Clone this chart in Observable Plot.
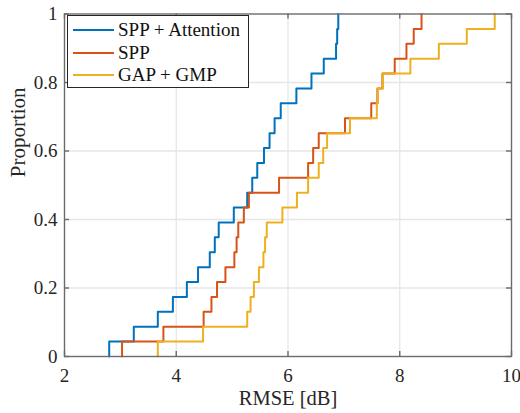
<!DOCTYPE html>
<html>
<head>
<meta charset="utf-8">
<script src="https://cdn.jsdelivr.net/npm/d3@7"></script>
<script src="https://cdn.jsdelivr.net/npm/@observablehq/plot@0.6"></script>
<style>
  html, body { margin: 0; padding: 0; background: #fff; }
  #wrap { position: relative; width: 520px; height: 413px; font-family: "Liberation Serif", "Times New Roman", serif; }
  #legend { position: absolute; left: 67px; top: 15px; width: 182px; height: 73px; border: 1px solid #262626; background: #fff; box-sizing: border-box; }
  .entry { position: absolute; left: 0; height: 22px; display: flex; align-items: center; font-family: "Liberation Serif", "Times New Roman", serif; font-size: 19px; color: #111; white-space: nowrap; }
  .swatch { width: 41px; height: 0; border-top: 2px solid; margin-left: 5px; margin-right: 4px; }
</style>
</head>
<body>
<div id="wrap"></div>
<script>
// ---- data ----
const seriesNames = ["SPP + Attention", "SPP", "GAP + GMP"];
const seriesColors = ["#0072BD", "#D95319", "#EDB120"];
const sppAttention = [2.80, 3.24, 3.67, 3.94, 4.19, 4.39, 4.60, 4.69, 4.76, 5.03, 5.27, 5.36, 5.45, 5.57, 5.67, 5.76, 5.87, 6.15, 6.42, 6.64, 6.86, 6.88, 6.90];
const spp = [3.03, 3.77, 4.49, 4.63, 4.73, 4.88, 5.04, 5.08, 5.11, 5.21, 5.30, 5.84, 6.36, 6.45, 6.55, 7.02, 7.49, 7.60, 7.69, 7.91, 8.12, 8.25, 8.39];
const gapGmp = [3.67, 4.48, 5.27, 5.33, 5.39, 5.48, 5.56, 5.59, 5.62, 5.90, 6.16, 6.36, 6.55, 6.63, 6.70, 7.11, 7.59, 7.61, 7.70, 8.19, 8.70, 9.20, 9.70];
const xTicks = [2, 4, 6, 8, 10];
const yTicks = [0, 0.2, 0.4, 0.6, 0.8, 1];
const yTickLabels = ["0", "0.2", "0.4", "0.6", "0.8", "1"];
const xLabel = "RMSE [dB]";
const yLabel = "Proportion";

// ---- ECDF points ----
function ecdf(values, name) {
  const s = values.slice().sort((a, b) => a - b);
  const n = s.length;
  const pts = [{x: s[0], y: 0, series: name}];
  s.forEach((v, i) => pts.push({x: v, y: (i + 1) / n, series: name}));
  return pts;
}
const allSeries = [sppAttention, spp, gapGmp];
const curves = allSeries.map((v, i) => ecdf(v, seriesNames[i]));

const W = 520, H = 413;
const mL = 64, mR = 9, mT = 13.5, mB = 57;
const tickPx = 5;
const xPerPx = (10 - 2) / (W - mL - mR);
const yPerPx = 1 / (H - mT - mB);
const axisColor = "#262626";
const serif = "Liberation Serif, Times New Roman, serif";

const chart = Plot.plot({
  width: W, height: H,
  marginLeft: mL, marginRight: mR, marginTop: mT, marginBottom: mB,
  style: {fontFamily: serif, fontSize: "19px", background: "#fff", color: axisColor},
  x: {domain: [2, 10], ticks: xTicks},
  y: {domain: [0, 1], ticks: yTicks},
  marks: [
    Plot.gridX(xTicks.slice(1, -1), {stroke: "#e6e6e6", strokeOpacity: 1, strokeWidth: 1.3}),
    Plot.gridY(yTicks.slice(1, -1), {stroke: "#e6e6e6", strokeOpacity: 1, strokeWidth: 1.3}),
    ...curves.map((c, i) => Plot.line(c, {x: "x", y: "y", curve: "step-after", stroke: seriesColors[i], strokeWidth: 2})),
    Plot.frame({stroke: "#6b6b6b", strokeWidth: 1.4}),
    // inward ticks
    Plot.ruleX(xTicks, {x: d => d, y1: 0, y2: tickPx * yPerPx, stroke: "#6b6b6b", strokeWidth: 1.4}),
    Plot.ruleX(xTicks, {x: d => d, y1: 1 - tickPx * yPerPx, y2: 1, stroke: "#6b6b6b", strokeWidth: 1.4}),
    Plot.ruleY(yTicks, {y: d => d, x1: 2, x2: 2 + tickPx * xPerPx, stroke: "#6b6b6b", strokeWidth: 1.4}),
    Plot.ruleY(yTicks, {y: d => d, x1: 10 - tickPx * xPerPx, x2: 10, stroke: "#6b6b6b", strokeWidth: 1.4}),
    Plot.axisX(xTicks, {tickSize: 0, tickPadding: 11.5, fontSize: 19, fontFamily: serif, fill: axisColor, label: null}),
    Plot.axisY(yTicks, {tickSize: 0, tickPadding: 7, fontSize: 19, fontFamily: serif, fill: axisColor, label: null, tickFormat: d => yTickLabels[yTicks.indexOf(d)]}),
    Plot.text([xLabel], {frameAnchor: "bottom", dy: 48, fontSize: 20.5, fontFamily: serif, fill: axisColor, text: d => d}),
    Plot.text([yLabel], {frameAnchor: "left", dx: -46, dy: -8, rotate: -90, fontSize: 21, fontFamily: serif, fill: axisColor, text: d => d})
  ]
});

const wrap = document.getElementById("wrap");
wrap.appendChild(chart);

const legend = document.createElement("div");
legend.id = "legend";
seriesNames.forEach((name, i) => {
  const e = document.createElement("div");
  e.className = "entry";
  e.style.top = (3 + i * 22.5) + "px";
  const sw = document.createElement("span");
  sw.className = "swatch";
  sw.style.borderTopColor = seriesColors[i];
  const t = document.createElement("span");
  t.textContent = name;
  e.appendChild(sw);
  e.appendChild(t);
  legend.appendChild(e);
});
wrap.appendChild(legend);
</script>
</body>
</html>
